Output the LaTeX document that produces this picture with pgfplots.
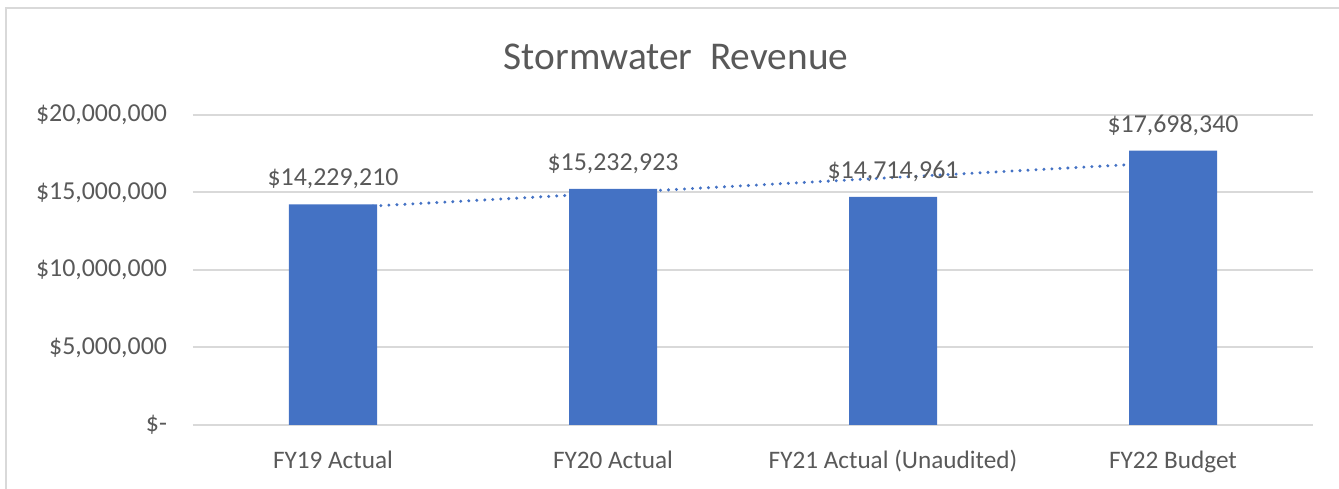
\documentclass[border=0pt]{standalone}
\usepackage{fontspec}
\setmainfont{Carlito}
\usepackage{pgfplots}
\usepackage{pgfplotstable}
\pgfplotsset{compat=1.18}
\definecolor{barblue}{HTML}{4472C4}
\definecolor{txtgray}{HTML}{595959}
\definecolor{gridgray}{HTML}{D9D9D9}
\pgfplotstableread{
x y label
0 14229210 {\$14,229,210}
1 15232923 {\$15,232,923}
2 14714961 {\$14,714,961}
3 17698340 {\$17,698,340}
}\revtable
\begin{document}
\begin{tikzpicture}
\useasboundingbox (0pt,0pt) rectangle (1004.25pt,366.75pt);
\draw[gridgray, line width=1.5pt] (4.5pt,0pt) -- (4.5pt,360.75pt) -- (1004.25pt,360.75pt);
\node[txtgray, font=\fontsize{29.5}{34}\selectfont] at (507pt,324pt) {Stormwater\ \ Revenue};
\begin{axis}[
  at={(144.75pt,48pt)}, anchor=south west,
  scale only axis, width=840pt, height=232.5pt,
  xmin=-0.5, xmax=3.5, ymin=0, ymax=20000000,
  enlargelimits=false, clip=false,
  axis line style={draw=none}, major tick length=0pt,
  ymajorgrids, grid style={gridgray, line width=1.5pt},
  xtick={0,1,2,3},
  xticklabels={FY19 Actual, FY20 Actual, FY21 Actual (Unaudited), FY22 Budget},
  ytick={0,5000000,10000000,15000000,20000000},
  yticklabels={{\$-},{\$5,000,000},{\$10,000,000},{\$15,000,000},{\$20,000,000}},
  scaled y ticks=false,
  tick label style={txtgray, font=\fontsize{19.4}{22}\selectfont},
  yticklabel style={anchor=east, xshift=-16pt},
  xticklabel style={anchor=base, yshift=-32.5pt, font=\fontsize{18.9}{22}\selectfont},
]
\addplot[barblue, line width=2.5pt, line cap=round, dash pattern=on 0pt off 6pt, forget plot]
  coordinates {(0,13985444) (3,16952273)};
\addplot[ybar, bar width=66pt, fill=barblue, draw=none,
  nodes near coords, point meta=explicit symbolic,
  nodes near coords style={txtgray, font=\fontsize{19.4}{22}\selectfont, anchor=base, yshift=14pt}]
  table[x=x, y=y, meta=label] {\revtable};
\end{axis}
\end{tikzpicture}
\end{document}
